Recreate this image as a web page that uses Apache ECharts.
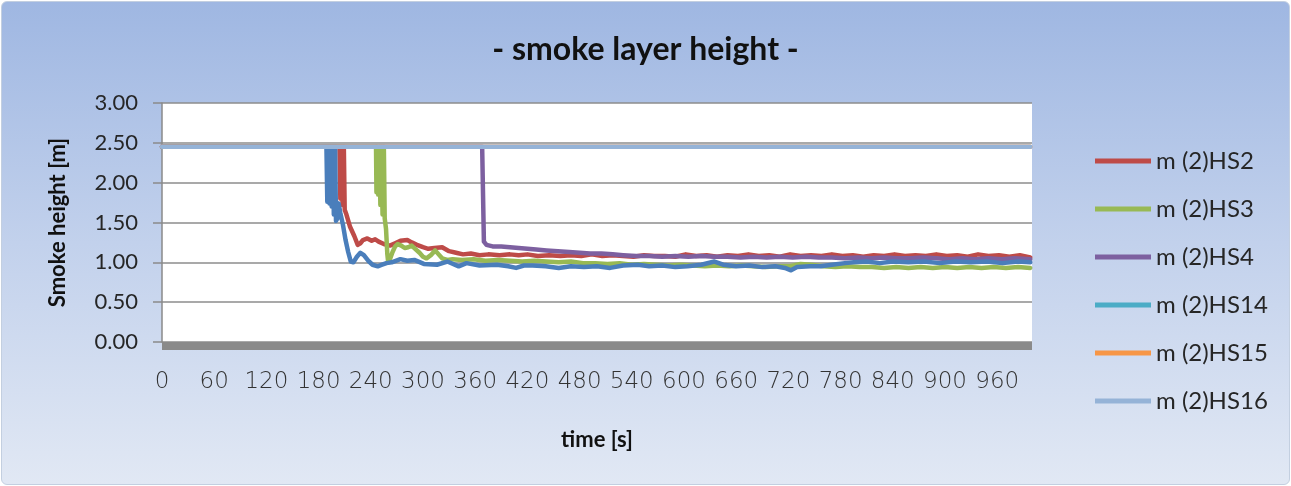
<!DOCTYPE html>
<html>
<head>
<meta charset="utf-8">
<script src="https://cdn.jsdelivr.net/npm/echarts@6/dist/echarts.min.js"></script>
<style>
  html, body { margin: 0; padding: 0; background: #ffffff; }
  #wrap { position: absolute; left: 1px; top: 1px; width: 1289px; height: 484px;
          border-radius: 6px; border: 1px solid #c3cfe0; box-sizing: border-box;
          background: linear-gradient(to bottom, #9fb7e2 0%, #c2d1ec 50%, #e1e8f4 100%); }
  #chart { position: absolute; left: -2px; top: -2px; width: 1291px; height: 486px; }
</style>
</head>
<body>
<div id="wrap"><div id="chart"></div></div>
<script>
// ---------------- data ----------------
const TITLE = '- smoke layer height -';
const X_NAME = 'time [s]';
const Y_NAME = 'Smoke height [m]';
const SERIES_NAMES = ['m (2)HS2', 'm (2)HS3', 'm (2)HS4', 'm (2)HS14', 'm (2)HS15', 'm (2)HS16'];
const X_MIN = 0, X_MAX = 1000, X_STEP = 60;
const Y_MIN = 0, Y_MAX = 3, Y_STEP = 0.5;

// [time s, height m]
const HS2 = [[0,2.45],[204,2.45],[205,1.80],[206.5,2.45],[207.5,1.72],[209,2.45],[210,1.66],[212,1.60],[216,1.45],[221,1.33],[225,1.22],[228,1.24],[231,1.28],[236,1.30],[241,1.27],[245,1.29],[249,1.26],[255,1.23],[262,1.21],[268,1.24],[274,1.27],[282,1.28],[287,1.25],[293,1.22],[300,1.19],[306,1.17],[313,1.18],[322,1.19],[330,1.14],[338,1.12],[346,1.10],[355,1.11],[365,1.09],[375,1.10],[388,1.09],[400,1.10],[410,1.09],[420,1.10],[432,1.08],[445,1.09],[458,1.08],[470,1.09],[482,1.08],[494,1.10],[506,1.08],[518,1.09],[530,1.08],[542,1.07],[554,1.09],[566,1.08],[578,1.08],[590,1.07],[602,1.10],[614,1.08],[626,1.09],[638,1.07],[650,1.09],[662,1.08],[674,1.10],[686,1.08],[698,1.09],[710,1.07],[722,1.10],[734,1.08],[746,1.09],[758,1.08],[770,1.10],[782,1.08],[794,1.09],[806,1.07],[818,1.09],[830,1.08],[842,1.10],[854,1.08],[866,1.09],[878,1.08],[890,1.10],[902,1.08],[914,1.09],[926,1.07],[938,1.10],[950,1.08],[962,1.09],[974,1.07],[986,1.09],[998,1.06]];

const HS3 = [[0,2.45],[246,2.45],[246.5,1.88],[247.5,2.45],[248.5,1.85],[250,2.45],[251,1.72],[252.5,2.45],[253.5,1.60],[255,2.45],[256,1.55],[257.5,1.42],[259,1.10],[260,1.00],[262,1.04],[265,1.13],[268,1.20],[271,1.23],[275,1.21],[279,1.18],[283,1.19],[287,1.21],[291,1.17],[296,1.12],[300,1.07],[304,1.05],[309,1.09],[314,1.15],[318,1.10],[322,1.05],[328,1.03],[334,1.04],[345,1.03],[358,1.04],[372,1.02],[386,1.03],[400,1.02],[414,1.01],[428,1.02],[442,1.01],[456,1.00],[470,1.01],[484,0.99],[498,0.99],[512,0.98],[526,0.99],[540,0.97],[554,0.98],[568,0.97],[582,0.96],[596,0.97],[610,0.96],[624,0.95],[638,0.96],[652,0.95],[666,0.96],[680,0.95],[694,0.94],[708,0.95],[722,0.95],[734,0.98],[746,0.97],[760,0.95],[774,0.94],[788,0.95],[802,0.94],[816,0.94],[830,0.93],[844,0.94],[858,0.93],[872,0.94],[886,0.93],[900,0.94],[914,0.93],[928,0.94],[942,0.93],[956,0.94],[970,0.93],[984,0.94],[998,0.93]];

const HS4 = [[0,2.45],[368,2.45],[370,1.26],[373,1.22],[380,1.20],[390,1.20],[400,1.19],[410,1.18],[420,1.17],[430,1.16],[442,1.15],[455,1.14],[468,1.13],[480,1.12],[492,1.11],[505,1.11],[518,1.10],[530,1.09],[545,1.08],[560,1.08],[575,1.07],[590,1.08],[605,1.07],[620,1.08],[635,1.07],[650,1.07],[665,1.06],[680,1.07],[695,1.06],[710,1.07],[725,1.06],[740,1.07],[755,1.06],[770,1.06],[785,1.05],[800,1.06],[815,1.05],[830,1.06],[845,1.05],[860,1.05],[875,1.06],[890,1.05],[905,1.04],[920,1.05],[935,1.04],[950,1.05],[965,1.04],[980,1.05],[998,1.04]];

const HS14 = [[0,2.45],[189,2.45],[190,1.76],[191.5,2.45],[192.5,1.74],[194,2.45],[195,1.70],[196.5,2.45],[197.5,1.60],[199,2.45],[200,1.52],[201.5,1.55],[203,1.74],[205,1.62],[208,1.47],[211,1.28],[214,1.13],[217,1.01],[220,1.00],[224,1.07],[228,1.12],[232,1.09],[237,1.02],[242,0.97],[248,0.95],[253,0.97],[258,0.99],[264,1.00],[274,1.04],[282,1.02],[290,1.03],[301,0.98],[316,0.97],[328,1.01],[341,0.95],[350,0.99],[365,0.96],[385,0.97],[398,0.95],[407,0.93],[416,0.96],[426,0.96],[441,0.95],[456,0.93],[470,0.95],[485,0.94],[500,0.95],[515,0.93],[530,0.96],[547,0.97],[560,0.95],[575,0.96],[590,0.94],[604,0.95],[620,0.97],[635,1.01],[645,0.97],[660,0.95],[675,0.96],[690,0.94],[705,0.95],[716,0.93],[723,0.90],[730,0.94],[745,0.95],[757,0.95],[770,0.97],[785,0.99],[795,1.00],[810,1.01],[825,0.99],[840,1.01],[858,1.00],[876,1.01],[894,0.99],[912,1.01],[930,1.00],[948,1.01],[966,0.99],[984,1.01],[998,1.00]];

const HS15 = [[0,2.45],[998,2.45]];
const HS16 = [[0,2.45],[998,2.45]];

const SERIES_DATA = [HS2, HS3, HS4, HS14, HS15, HS16];
const LINE_COLORS = ['#be4b48', '#98b954', '#7d60a0', '#4a7ebb', '#f79646', '#95b3d7'];
const LEGEND_COLORS = ['#be4b48', '#98b954', '#7d60a0', '#4bacc6', '#f79646', '#95b3d7'];

// ---------------- chart ----------------
const chart = echarts.init(document.getElementById('chart'), null, { renderer: 'canvas' });
const baseFont = 'Lato, "Noto Sans", sans-serif';

chart.setOption({
  backgroundColor: 'transparent',
  animation: false,
  title: {
    text: TITLE, left: 'center', top: 29,
    textStyle: { fontFamily: baseFont, fontSize: 32, fontWeight: 'bold', color: '#111' }
  },
  legend: {
    orient: 'vertical', left: 1090, top: 144,
    icon: 'rect', itemWidth: 56, itemHeight: 5, itemGap: 24,
    textStyle: { fontFamily: baseFont, fontSize: 24, lineHeight: 24, color: '#262626' },
    data: SERIES_NAMES.map((n, i) => ({ name: n, itemStyle: { color: LEGEND_COLORS[i] } }))
  },
  grid: { left: 162, right: 259, top: 103, bottom: 144, containLabel: false,
          show: true, backgroundColor: '#ffffff', borderWidth: 0 },
  xAxis: {
    type: 'value', min: X_MIN, max: X_MAX, interval: X_STEP,
    name: X_NAME, nameLocation: 'middle', nameGap: 83,
    nameTextStyle: { fontFamily: baseFont, fontSize: 22, fontWeight: 'bold', color: '#111' },
    offset: 4,
    axisLine: { show: true, onZero: false, lineStyle: { color: '#8a8a8a', width: 8, cap: 'butt' } },
    axisTick: { show: false },
    splitLine: { show: false },
    axisLabel: {
      showMaxLabel: false, margin: 25,
      fontFamily: '"DejaVu Sans", sans-serif', fontSize: 23, fontWeight: 200, color: '#333',
      formatter: v => (v % X_STEP === 0 ? String(v) : '')
    }
  },
  yAxis: {
    type: 'value', min: Y_MIN, max: Y_MAX, interval: Y_STEP,
    name: Y_NAME, nameLocation: 'middle', nameGap: 93, nameRotate: 90,
    nameTextStyle: { fontFamily: baseFont, fontSize: 22, fontWeight: 'bold', color: '#111' },
    axisLine: { show: true, lineStyle: { color: '#8a8a8a', width: 1.5 } },
    axisTick: { show: true, length: 9, lineStyle: { color: '#8a8a8a', width: 1.5 } },
    splitLine: { show: true, lineStyle: { color: '#8c8c8c', width: 1.5 } },
    axisLabel: {
      margin: 24, fontFamily: baseFont, fontSize: 22, color: '#262626',
      formatter: v => v.toFixed(2)
    }
  },
  series: SERIES_NAMES.map((n, i) => ({
    name: n, type: 'line', data: SERIES_DATA[i],
    showSymbol: false, symbol: 'none', smooth: false,
    lineStyle: { color: LINE_COLORS[i], width: 4.5, join: 'round', cap: 'round' },
    itemStyle: { color: LINE_COLORS[i] },
    z: 2 + i
  }))
});
</script>
</body>
</html>
